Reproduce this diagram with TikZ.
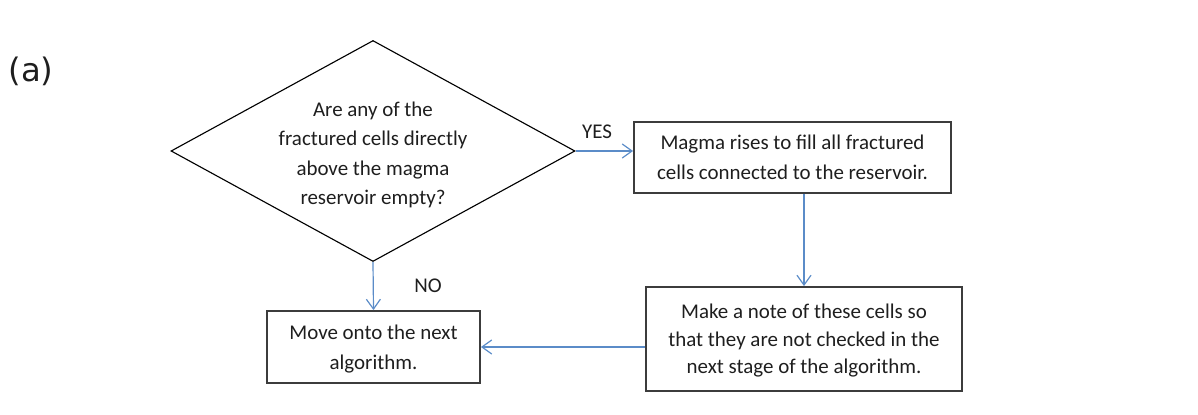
\documentclass[tikz,border=0pt]{standalone}
\usepackage{fontspec}
\setmainfont{Carlito}
\newfontfamily\labelfont{DejaVu Sans}
\usetikzlibrary{shapes.geometric,arrows.meta}
\definecolor{flowBlue}{RGB}{91,140,200}
\definecolor{flowGrey}{RGB}{60,60,60}
\definecolor{flowText}{RGB}{30,30,30}
\begin{document}
\begin{tikzpicture}[flowText/.style={align=center, text=flowText, font=\fontsize{14.9}{21}\selectfont},
    flowDecision/.style={draw=black, line width=0.8pt, diamond, inner sep=0pt, minimum width=10.1cm, minimum height=5.525cm},
    flowBox/.style={draw=flowGrey, line width=1.3pt, inner sep=0pt, flowText},
    flowArrow/.style={-{Straight Barb[length=7pt, width=10pt]}, draw=flowBlue, line width=0.85pt}]
    \useasboundingbox (0, 0) rectangle (29.95, -10.375);

    \node[text=flowText, font=\labelfont\fontsize{23}{28}\selectfont] (tag) at (0.775, -1.775) {(a)};

    \node[flowDecision] (check) at (9.325, -3.775) {};
    \node[flowText, yshift=-0.1cm] (checkText) at (check.center) {Are any of the\\fractured cells directly\\above the magma\\reservoir empty?};
    \node[flowBox, minimum width=7.925cm, minimum height=1.775cm] (rise) at (19.8125, -3.9375) {Magma rises to fill all fractured\\cells connected to the reservoir.};
    \node[flowBox, minimum width=7.9cm, minimum height=2.6cm, font=\fontsize{14.9}{19.5}\selectfont, text depth=0pt] (note) at (20.1, -8.475) {Make a note of these cells so\\that they are not checked in the\\next stage of the algorithm.};
    \node[flowBox, minimum width=5.325cm, minimum height=1.8cm, text depth=0pt] (next) at (9.3375, -8.675) {Move onto the next\\algorithm.};

    \node[flowText] (yes) at (14.925, -3.3) {YES};
    \node[flowText] (no) at (10.7, -7.15) {NO};

    \draw[flowArrow] (check.east) -- (check.east -| rise.west);
    \draw[flowArrow] (check.south) -- (next.north);
    \draw[flowArrow] (rise.south -| note.north) -- (note.north);
    \draw[flowArrow] (next.east -| note.west) -- (next.east);
\end{tikzpicture}
\end{document}
